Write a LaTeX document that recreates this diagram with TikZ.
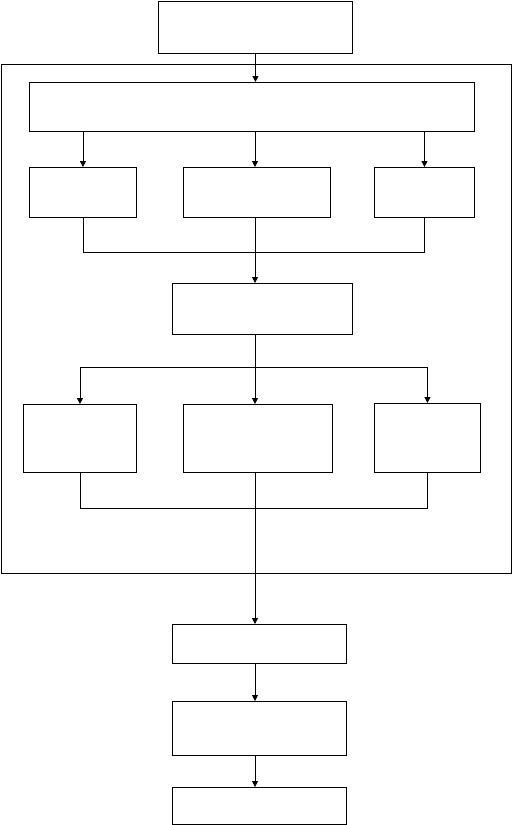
\documentclass[tikz,border=0pt]{standalone}
\usetikzlibrary{arrows.meta,positioning}

\begin{document}
\begin{tikzpicture}[
  x=1pt, y=-1pt,
  >={Triangle[length=6pt,width=6pt]},
  line width=0.9pt,
  box/.style={draw, fill=white, anchor=north west, inner sep=0pt,
    minimum width=#1},
  box/.default=100pt,
]
\useasboundingbox (0,0) rectangle (512,825);
% outer frame
\node[box=510pt, minimum height=509pt, fill=none] (frame) at (1,64) {};
% top
\node[box=194pt, minimum height=52pt] (top) at (158,1) {};
\node[box=445pt, minimum height=49pt] (wide) at (29,82) {};
% first row
\node[box=107pt, minimum height=50pt] (a1) at (29,167) {};
\node[box=147pt, minimum height=50pt] (a2) at (183,167) {};
\node[box=100pt, minimum height=50pt] (a3) at (374,167) {};
\node[box=180pt, minimum height=51pt] (mid) at (172,283) {};
% second row
\node[box=113pt, minimum height=68pt] (b1) at (23,404) {};
\node[box=149pt, minimum height=68pt] (b2) at (183,404) {};
\node[box=106pt, minimum height=69pt] (b3) at (374,403) {};
% bottom
\node[box=174pt, minimum height=39pt] (g) at (172,624) {};
\node[box=174pt, minimum height=54pt] (h) at (172,701) {};
\node[box=174pt, minimum height=37pt] (i) at (172,787) {};
\coordinate (j1) at (255,252);
\coordinate (s) at (255,367);
\coordinate (j2) at (255,508);

\draw[->] (top) -- (top |- wide.north);
\draw[->] (a1.north |- wide.south) -- (a1.north);
\draw[->] (wide.south -| j1) -- (a2.north -| j1);
\draw[->] (a3.north |- wide.south) -- (a3.north);
\draw (a1.south) |- (a3.south |- j1) -- (a3.south);
\draw[->] (a2.south -| j1) -- (mid.north -| j1);
\draw (mid.south -| s) -- (s);
\draw[->] (s) -| (b1.north);
\draw[->] (s) -- (b2.north -| s);
\draw[->] (s) -| (b3.north);
\draw (b1.south) |- (b3.south |- j2) -- (b3.south);
\draw (b2.south -| j2) -- (j2);
\draw[->] (j2) -- (g.north -| j2);
\draw[->] (g.south -| j2) -- (h.north -| j2);
\draw[->] (h.south -| j2) -- (i.north -| j2);
\end{tikzpicture}
\end{document}
